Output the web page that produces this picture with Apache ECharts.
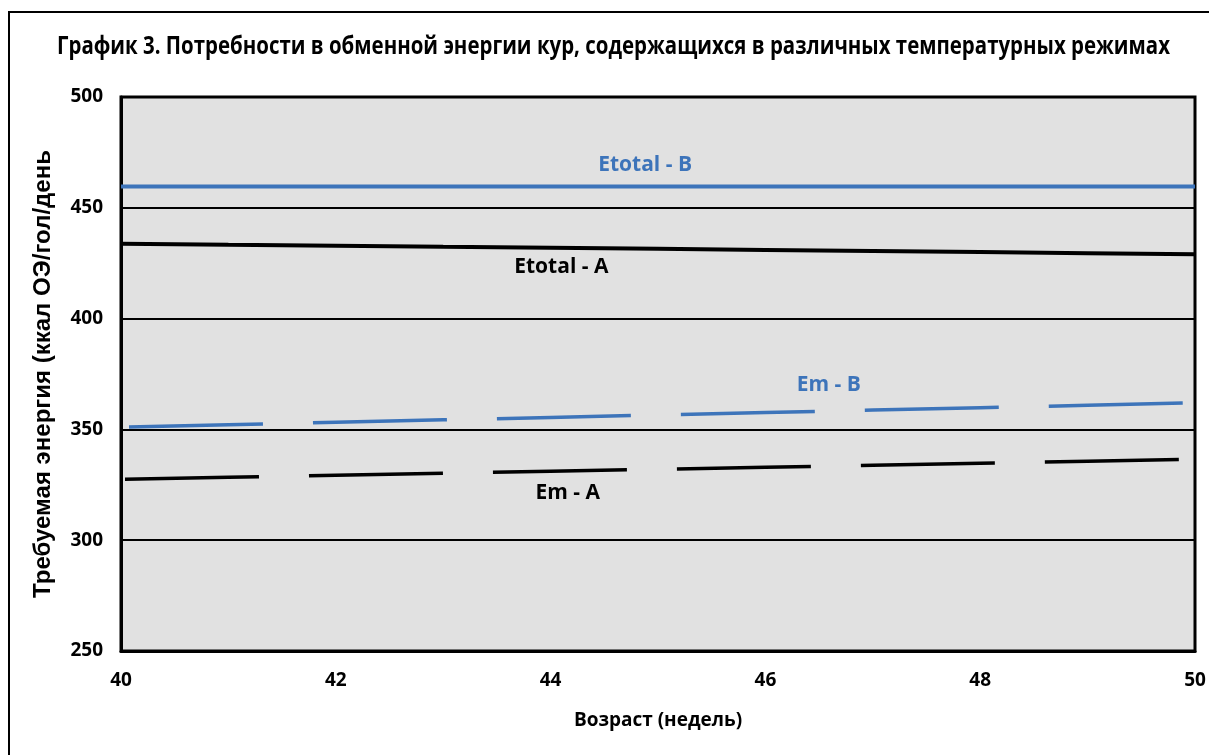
<!DOCTYPE html>
<html><head><meta charset="utf-8">
<script src="https://cdn.jsdelivr.net/npm/echarts@6/dist/echarts.min.js"></script>
<style>html,body{margin:0;padding:0;background:#fff}#c{width:1209px;height:755px}</style>
</head><body><div id="c"></div>
<script>
const weeks = [40, 41, 42, 43, 44, 45, 46, 47, 48, 49, 50];
const etotalB = [459.6, 459.6, 459.6, 459.6, 459.6, 459.6, 459.6, 459.6, 459.6, 459.6, 459.6];
const etotalA = [433.8, 433.3, 432.9, 432.4, 432.0, 431.5, 431.0, 430.5, 430.0, 429.5, 429.0];
const emB = [351.0, 352.1, 353.2, 354.3, 355.4, 356.5, 357.6, 358.7, 359.8, 360.9, 362.0];
const emA = [327.5, 328.4, 329.3, 330.2, 331.1, 332.0, 332.9, 333.8, 334.7, 335.6, 336.5];
const seriesNames = ['Etotal - B', 'Etotal - A', 'Em - B', 'Em - A'];
const yTicks = [250, 300, 350, 400, 450, 500];
const xTicks = [40, 42, 44, 46, 48, 50];
const titleText = 'График 3. Потребности в обменной энергии кур, содержащихся в различных температурных режимах';
const xName = 'Возраст (недель)';
const yName = 'Требуемая энергия (ккал ОЭ/гол/день';

const BLUE = '#3d74ba';
const pair = arr => weeks.map((w, i) => [w, arr[i]]);
const lbl = (name, coord, color) => ({
  markPoint: {
    symbol: 'circle', symbolSize: 0, silent: true,
    label: { show: true, position: 'inside', formatter: name, color: color,
      fontFamily: 'Open Sans', fontWeight: 'bold', fontSize: 21 },
    data: [{ coord: coord }]
  }
});

// condensed title: measure natural width, then squeeze horizontally
const TITLE_FONT = 'bold 25px "Open Sans"';
const cv = document.createElement('canvas').getContext('2d');
cv.font = TITLE_FONT;
const titleW = cv.measureText(titleText).width;
const titleScale = 1113 / titleW;

const chart = echarts.init(document.getElementById('c'), null, { renderer: 'canvas' });
chart.setOption({
  animation: false,
  backgroundColor: '#fff',
  graphic: [{
    type: 'rect', shape: { x: 9, y: 12, width: 1400, height: 900 },
    style: { fill: 'none', stroke: '#000', lineWidth: 2 }, silent: true
  }, {
    type: 'text', x: 57, y: 47, scaleX: titleScale, originX: 0,
    style: { text: titleText, font: TITLE_FONT, fill: '#000', textVerticalAlign: 'middle', verticalAlign: 'middle' },
    silent: true
  }],
  grid: { left: 121, right: 14, top: 97, bottom: 104, show: true, backgroundColor: '#e1e1e1',
    borderColor: '#000', borderWidth: 3 },
  xAxis: {
    type: 'value', min: xTicks[0], max: xTicks[xTicks.length - 1], interval: 2,
    name: xName, nameLocation: 'middle', nameGap: 60,
    nameTextStyle: { fontFamily: 'Open Sans', fontWeight: 'bold', fontSize: 19, color: '#000' },
    axisLine: { show: true, lineStyle: { color: '#000', width: 3 } },
    axisTick: { show: false }, splitLine: { show: false },
    axisLabel: { margin: 20, fontFamily: 'Open Sans', fontWeight: 'bold', fontSize: 19, color: '#000' }
  },
  yAxis: {
    type: 'value', min: yTicks[0], max: yTicks[yTicks.length - 1], interval: 50,
    name: yName, nameLocation: 'middle', nameGap: 66, nameRotate: 90,
    nameTextStyle: { fontFamily: 'Liberation Sans', fontWeight: 'bold', fontSize: 24, color: '#000' },
    axisLine: { show: true, lineStyle: { color: '#000', width: 3 } },
    axisTick: { show: false },
    splitLine: { show: true, lineStyle: { color: '#000', width: 2 } },
    axisLabel: { margin: 18, fontFamily: 'Open Sans', fontWeight: 'bold', fontSize: 19, color: '#000' }
  },
  series: [
    Object.assign({ name: seriesNames[0], type: 'line', data: pair(etotalB), showSymbol: false, symbol: 'none',
      lineStyle: { color: BLUE, width: 4 } }, lbl(seriesNames[0], [44.88, 469.5], BLUE)),
    Object.assign({ name: seriesNames[1], type: 'line', data: pair(etotalA), showSymbol: false, symbol: 'none',
      lineStyle: { color: '#000', width: 4 } }, lbl(seriesNames[1], [44.1, 423.3], '#000')),
    Object.assign({ name: seriesNames[2], type: 'line', data: pair(emB), showSymbol: false, symbol: 'none',
      lineStyle: { color: BLUE, width: 3.5, type: [134, 50], dashOffset: -8 } }, lbl(seriesNames[2], [46.59, 369.9], BLUE)),
    Object.assign({ name: seriesNames[3], type: 'line', data: pair(emA), showSymbol: false, symbol: 'none',
      lineStyle: { color: '#000', width: 3.5, type: [134, 50], dashOffset: -4 } }, lbl(seriesNames[3], [44.16, 321.5], '#000'))
  ]
});
</script></body></html>
